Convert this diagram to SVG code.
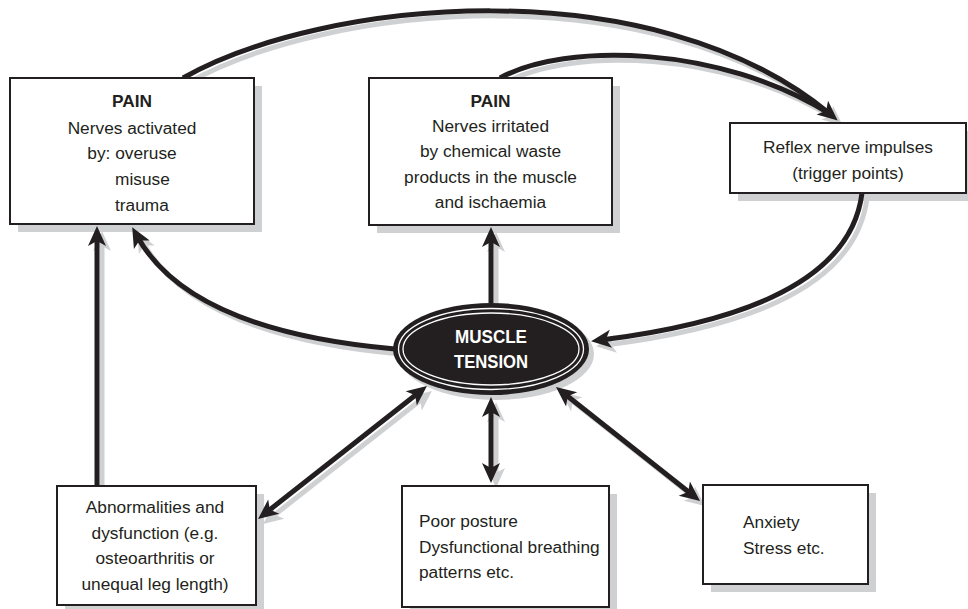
<svg xmlns="http://www.w3.org/2000/svg" width="968" height="609" viewBox="0 0 968 609">
<style>
.box{fill:#fff;stroke:#231f20;stroke-width:2}
.bsh{fill:#cfd0d2}
.t{font-family:"Liberation Sans",Arial,sans-serif;font-size:17.3px;fill:#231f20}
.c{text-anchor:middle}
.b{font-weight:bold}
.ln{fill:none;stroke:#231f20;stroke-width:5}
.lsh{fill:none;stroke:#cfd0d2;stroke-width:5}
.w{font-family:"Liberation Sans",Arial,sans-serif;font-size:19px;font-weight:bold;fill:#fff;text-anchor:middle}
</style>
<defs>
<marker id="ah" markerUnits="userSpaceOnUse" viewBox="-12 -10 24 20" refX="0" refY="0" markerWidth="24" markerHeight="20" orient="auto-start-reverse">
<path d="M10,0 L-10,-9 L-5,0 L-10,9 Z" fill="#231f20"/>
</marker>
<marker id="ahs" markerUnits="userSpaceOnUse" viewBox="-12 -10 24 20" refX="0" refY="0" markerWidth="24" markerHeight="20" orient="auto-start-reverse">
<path d="M10,0 L-10,-9 L-5,0 L-10,9 Z" fill="#cfd0d2"/>
</marker>
</defs>
<g id="shadows">
<g transform="translate(5,5)">
<path class="lsh" d="M183,78 C320,0 650,-35 830,114" marker-end="url(#ahs)"/>
<path class="lsh" d="M500,78 C565,42 720,45 830,114"/>
<path class="lsh" d="M862,193 C850,290 720,325 601,340" marker-end="url(#ahs)"/>
<path class="lsh" d="M395,349 C270,338 175,305 137,236" marker-end="url(#ahs)"/>
<path class="lsh" d="M97,486 L97,236" marker-end="url(#ahs)"/>
<path class="lsh" d="M491,303 L491,237" marker-end="url(#ahs)"/>
<path class="lsh" d="M419.1,392.2 L265.9,512.8" marker-start="url(#ahs)" marker-end="url(#ahs)"/>
<path class="lsh" d="M491,407 L491,473" marker-start="url(#ahs)" marker-end="url(#ahs)"/>
<path class="lsh" d="M563.8,393.2 L692.2,494.8" marker-start="url(#ahs)" marker-end="url(#ahs)"/>
</g>
<rect class="bsh" x="18" y="86" width="244" height="146"/>
<rect class="bsh" x="377" y="86" width="243" height="147"/>
<rect class="bsh" x="738" y="131" width="236" height="70"/>
<rect class="bsh" x="65" y="494" width="199" height="119"/>
<rect class="bsh" x="410" y="494" width="207" height="121"/>
<rect class="bsh" x="711" y="493" width="165" height="99"/>
<ellipse class="bsh" cx="496" cy="354" rx="98" ry="46"/>
</g>
<g id="connectors">
<path class="ln" d="M183,78 C320,0 650,-35 830,114" marker-end="url(#ah)"/>
<path class="ln" d="M500,78 C565,42 720,45 830,114"/>
<path class="ln" d="M862,193 C850,290 720,325 601,340" marker-end="url(#ah)"/>
<path class="ln" d="M395,349 C270,338 175,305 137,236" marker-end="url(#ah)"/>
<path class="ln" d="M97,486 L97,236" marker-end="url(#ah)"/>
<path class="ln" d="M491,303 L491,237" marker-end="url(#ah)"/>
<path class="ln" d="M419.1,392.2 L265.9,512.8" marker-start="url(#ah)" marker-end="url(#ah)"/>
<path class="ln" d="M491,407 L491,473" marker-start="url(#ah)" marker-end="url(#ah)"/>
<path class="ln" d="M563.8,393.2 L692.2,494.8" marker-start="url(#ah)" marker-end="url(#ah)"/>
</g>
<g id="pain-activated">
<rect class="box" x="10" y="78" width="244" height="146"/>
<text class="t c b" x="132" y="107">PAIN</text>
<text class="t c" x="132" y="134">Nerves activated</text>
<text class="t c" x="132" y="159">by: overuse</text>
<text class="t" x="115" y="185">misuse</text>
<text class="t" x="115" y="211">trauma</text>
</g>
<g id="pain-irritated">
<rect class="box" x="369" y="78" width="243" height="147"/>
<text class="t c b" x="490.5" y="107">PAIN</text>
<text class="t c" x="490.5" y="132">Nerves irritated</text>
<text class="t c" x="490.5" y="157">by chemical waste</text>
<text class="t c" x="490.5" y="183">products in the muscle</text>
<text class="t c" x="490.5" y="208">and ischaemia</text>
</g>
<g id="reflex">
<rect class="box" x="730" y="123" width="236" height="70"/>
<text class="t c" x="848" y="153">Reflex nerve impulses</text>
<text class="t c" x="848" y="179">(trigger points)</text>
</g>
<g id="muscle-tension">
<ellipse cx="491" cy="349" rx="98" ry="46" fill="#231f20"/>
<ellipse cx="491" cy="349" rx="92.5" ry="40.5" fill="none" stroke="#fff" stroke-width="1.3"/>
<ellipse cx="491" cy="349" rx="88" ry="36" fill="none" stroke="#fff" stroke-width="1.3"/>
<text class="w" x="491" y="343" textLength="72" lengthAdjust="spacingAndGlyphs">MUSCLE</text>
<text class="w" x="491" y="368" textLength="74" lengthAdjust="spacingAndGlyphs">TENSION</text>
</g>
<g id="abnormalities">
<rect class="box" x="57" y="486" width="199" height="119"/>
<text class="t c" x="155" y="513">Abnormalities and</text>
<text class="t c" x="155" y="539">dysfunction (e.g.</text>
<text class="t c" x="155" y="564">osteoarthritis or</text>
<text class="t c" x="155" y="590">unequal leg length)</text>
</g>
<g id="posture">
<rect class="box" x="402" y="486" width="207" height="121"/>
<text class="t" x="419" y="527">Poor posture</text>
<text class="t" x="419" y="553">Dysfunctional breathing</text>
<text class="t" x="419" y="578">patterns etc.</text>
</g>
<g id="anxiety">
<rect class="box" x="703" y="485" width="165" height="99"/>
<text class="t" x="743" y="528">Anxiety</text>
<text class="t" x="743" y="554">Stress etc.</text>
</g>
</svg>
